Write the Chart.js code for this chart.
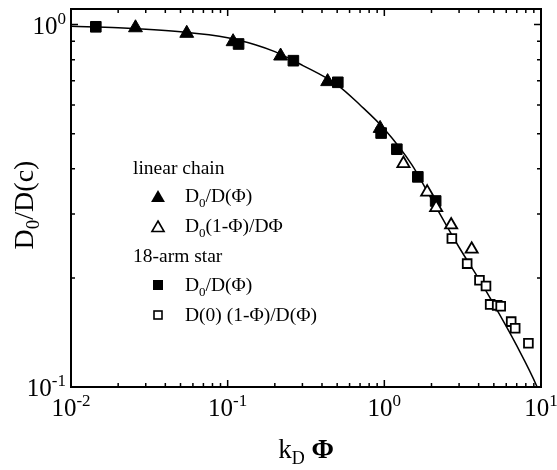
<!DOCTYPE html>
<html>
<head>
<meta charset="utf-8">
<script src="https://cdn.jsdelivr.net/npm/chart.js@4.4.0/dist/chart.umd.min.js"></script>
<style>
  html, body { margin: 0; padding: 0; background: #fff; }
</style>
</head>
<body>
<canvas id="myChart" width="557" height="470"></canvas>
<script>
// linear chain, D0/D(phi)  (filled triangles)
const chainFilledX = [0.0258, 0.0548, 0.1083, 0.2177, 0.4345, 0.940];
const chainFilledY = [0.980, 0.946, 0.897, 0.819, 0.696, 0.517];
// linear chain, D0(1-phi)/D phi  (open triangles)
const chainOpenX = [1.324, 1.877, 2.142, 2.670, 3.610];
const chainOpenY = [0.4135, 0.3448, 0.3125, 0.280, 0.240];
// 18-arm star, D0/D(phi)  (filled squares)
const starFilledX = [0.0144, 0.1174, 0.2627, 0.5047, 0.954, 1.202, 1.636, 2.126];
const starFilledY = [0.986, 0.884, 0.795, 0.693, 0.502, 0.453, 0.380, 0.326];
// 18-arm star, D(0)(1-phi)/D(phi)  (open squares)
const starOpenX = [2.698, 3.379, 4.048, 4.455, 4.738, 5.253, 5.53, 6.452, 6.842, 8.31];
const starOpenY = [0.257, 0.219, 0.197, 0.190, 0.169, 0.168, 0.167, 0.1515, 0.1453, 0.132];
// solid curve
const curveX = [0.01, 0.02, 0.05, 0.1, 0.15, 0.2, 0.3, 0.5, 0.7, 1.0, 1.5, 2.0, 3.0, 4.0, 5.0, 7.0, 9.4, 9.7];
const curveY = [0.99, 0.98, 0.955, 0.920, 0.880, 0.842, 0.772, 0.682, 0.600, 0.515, 0.410, 0.330, 0.243, 0.199, 0.169, 0.130, 0.1005, 0.097];

// tick labels (base 10, exponent)
const xTickValues = [0.01, 0.1, 1, 10];
const xTickExps = ['-2', '-1', '0', '1'];
const yTickValues = [0.1, 1];
const yTickExps = ['-1', '0'];

const serif = '"Liberation Serif", "Times New Roman", serif';

function pts(xs, ys) {
  return xs.map((v, i) => ({ x: v, y: ys[i] }));
}

// draws a run of text pieces (normal / sub / sup) starting at baseline y
function drawRich(ctx, parts, x, y, align) {
  let w = 0;
  for (const p of parts) {
    ctx.font = (p.bold ? 'bold ' : '') + p.size + 'px ' + serif;
    p.w = ctx.measureText(p.t).width;
    w += p.w;
  }
  let cx = x;
  if (align === 'center') cx = x - w / 2;
  if (align === 'right') cx = x - w;
  ctx.textAlign = 'left';
  ctx.textBaseline = 'alphabetic';
  for (const p of parts) {
    ctx.font = (p.bold ? 'bold ' : '') + p.size + 'px ' + serif;
    ctx.fillText(p.t, cx, y + (p.dy || 0));
    cx += p.w;
  }
}

function triangle(ctx, x, y, r, filled) {
  ctx.beginPath();
  ctx.moveTo(x, y - r);
  ctx.lineTo(x + 0.866 * r, y + 0.5 * r);
  ctx.lineTo(x - 0.866 * r, y + 0.5 * r);
  ctx.closePath();
  if (filled) ctx.fill(); else ctx.stroke();
}

const decor = {
  id: 'decor',
  afterDraw(chart) {
    const { ctx, chartArea: a } = chart;
    const xs = chart.scales.x, ys = chart.scales.y;
    ctx.save();
    ctx.fillStyle = '#000';
    ctx.strokeStyle = '#000';

    // frame
    ctx.lineWidth = 2;
    ctx.strokeRect(a.left, a.top, a.right - a.left, a.bottom - a.top);

    // inward ticks on all four sides
    ctx.lineWidth = 1.5;
    ctx.beginPath();
    for (const d of [0.01, 0.1, 1]) {
      for (let m = 1; m <= 9; m++) {
        const px = xs.getPixelForValue(d * m);
        const len = m === 1 ? 7 : 4;
        ctx.moveTo(px, a.bottom); ctx.lineTo(px, a.bottom - len);
        ctx.moveTo(px, a.top); ctx.lineTo(px, a.top + len);
      }
    }
    for (const d of [0.1, 1]) {
      for (let m = 1; m <= 9; m++) {
        const v = d * m;
        if (v > ys.max) break;
        const py = ys.getPixelForValue(v);
        const len = m === 1 ? 7 : 4;
        ctx.moveTo(a.left, py); ctx.lineTo(a.left + len, py);
        ctx.moveTo(a.right, py); ctx.lineTo(a.right - len, py);
      }
    }
    ctx.stroke();

    // tick labels
    xTickValues.forEach((v, i) => {
      drawRich(ctx, [{ t: '10', size: 25 }, { t: xTickExps[i], size: 17, dy: -10 }],
        xs.getPixelForValue(v), a.bottom + 29, 'center');
    });
    yTickValues.forEach((v, i) => {
      drawRich(ctx, [{ t: '10', size: 25 }, { t: yTickExps[i], size: 17, dy: -10 }],
        a.left - 5, ys.getPixelForValue(v) + 9, 'right');
    });

    // axis titles
    drawRich(ctx, [{ t: 'k', size: 27 }, { t: 'D', size: 18, dy: 6 }, { t: ' ', size: 27 },
      { t: 'Φ', size: 27, bold: true }], (a.left + a.right) / 2, 458, 'center');
    ctx.save();
    ctx.translate(33, 205);
    ctx.rotate(-Math.PI / 2);
    drawRich(ctx, [{ t: 'D', size: 28 }, { t: '0', size: 19, dy: 6 }, { t: '/D(c)', size: 28 }], 0, 0, 'center');
    ctx.restore();

    // legend
    const lx = 158, tx = 185;
    drawRich(ctx, [{ t: 'linear chain', size: 19.5 }], 133, 174, 'left');
    triangle(ctx, lx, 198, 8, true);
    drawRich(ctx, [{ t: 'D', size: 19.5 }, { t: '0', size: 13, dy: 5 }, { t: '/D(Φ)', size: 19.5 }], tx, 202, 'left');
    ctx.lineWidth = 1.6;
    triangle(ctx, lx, 228, 7, false);
    drawRich(ctx, [{ t: 'D', size: 19.5 }, { t: '0', size: 13, dy: 5 }, { t: '(1-Φ)/DΦ', size: 19.5 }], tx, 232, 'left');
    drawRich(ctx, [{ t: '18-arm star', size: 19.5 }], 133, 262, 'left');
    ctx.fillRect(lx - 5, 285 - 5, 10, 10);
    drawRich(ctx, [{ t: 'D', size: 19.5 }, { t: '0', size: 13, dy: 5 }, { t: '/D(Φ)', size: 19.5 }], tx, 291, 'left');
    ctx.strokeRect(lx - 4, 315 - 4, 8, 8);
    drawRich(ctx, [{ t: 'D(0) (1-Φ)/D(Φ)', size: 19.5 }], tx, 321, 'left');

    ctx.restore();
  }
};

new Chart(document.getElementById('myChart').getContext('2d'), {
  type: 'scatter',
  data: {
    datasets: [
      {
        label: 'curve',
        data: pts(curveX, curveY),
        showLine: true,
        borderColor: '#000',
        borderWidth: 1.5,
        pointRadius: 0,
        cubicInterpolationMode: 'monotone',
        order: 10
      },
      {
        label: 'linear chain D0/D(Φ)',
        data: pts(chainFilledX, chainFilledY),
        pointStyle: 'triangle',
        pointRadius: 8,
        backgroundColor: '#000',
        borderColor: '#000',
        borderWidth: 1,
        order: 1
      },
      {
        label: 'linear chain D0(1-Φ)/DΦ',
        data: pts(chainOpenX, chainOpenY),
        pointStyle: 'triangle',
        pointRadius: 7,
        backgroundColor: '#fff',
        borderColor: '#000',
        borderWidth: 1.8,
        order: 1
      },
      {
        label: '18-arm star D0/D(Φ)',
        data: pts(starFilledX, starFilledY),
        pointStyle: 'rect',
        pointRadius: 7.5,
        backgroundColor: '#000',
        borderColor: '#000',
        borderWidth: 1,
        order: 1
      },
      {
        label: '18-arm star D(0) (1-Φ)/D(Φ)',
        data: pts(starOpenX, starOpenY),
        pointStyle: 'rect',
        pointRadius: 6.2,
        backgroundColor: '#fff',
        borderColor: '#000',
        borderWidth: 1.8,
        order: 1
      }
    ]
  },
  options: {
    responsive: false,
    animation: false,
    devicePixelRatio: 1,
    layout: { padding: { left: 71, right: 16, top: 9, bottom: 83 } },
    plugins: { legend: { display: false }, tooltip: { enabled: false } },
    scales: {
      x: { type: 'logarithmic', min: 0.01, max: 10, display: false },
      y: { type: 'logarithmic', min: 0.1, max: 1.104, display: false }
    }
  },
  plugins: [decor]
});
</script>
</body>
</html>
